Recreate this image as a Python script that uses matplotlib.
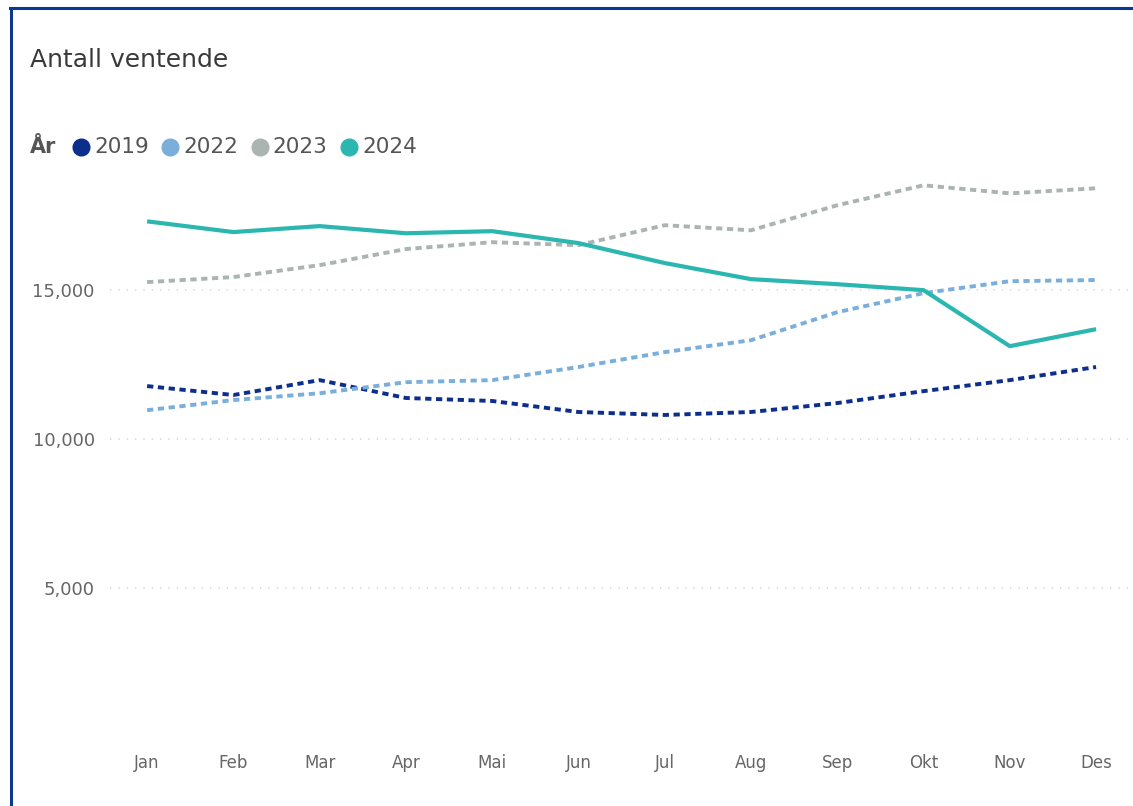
import matplotlib
matplotlib.use('Agg')
import matplotlib.pyplot as plt
from matplotlib.lines import Line2D
from matplotlib.ticker import FuncFormatter

months = ['Jan', 'Feb', 'Mar', 'Apr', 'Mai', 'Jun', 'Jul', 'Aug', 'Sep', 'Okt', 'Nov', 'Des']
years = ['2019', '2022', '2023', '2024']

v2019 = [11780, 11480, 11980, 11380, 11280, 10910, 10810, 10910, 11210, 11610, 11980, 12420]
v2022 = [10970, 11310, 11540, 11910, 11980, 12420, 12920, 13320, 14260, 14900, 15300, 15340]
v2023 = [15270, 15440, 15840, 16380, 16610, 16510, 17180, 17010, 17850, 18520, 18250, 18420]
v2024 = [17310, 16950, 17150, 16910, 16980, 16580, 15910, 15370, 15200, 15000, 13120, 13690]

colors = ['#0c2f8c', '#7aafdc', '#aab5b2', '#2cb6b0']
plt.rcParams['lines.scale_dashes'] = False

W, H = 1133, 806
fig = plt.figure(figsize=(W / 100, H / 100), dpi=100)

# axes placed in pixel units
left, right, bottom, top = 110, 1128, 737, 171
ax = fig.add_axes([left / W, 1 - bottom / H, (right - left) / W, (bottom - top) / H])

x = list(range(len(months)))
series = [v2019, v2022, v2023, v2024]
for i, vals in enumerate(series):
    if years[i] == '2024':
        ax.plot(x, vals, color=colors[i], lw=3.0, solid_capstyle='butt', zorder=3)
    else:
        ax.plot(x, vals, color=colors[i], lw=2.8, dashes=(4.5, 3.3), zorder=2)

ax.set_xlim(-0.43, 11.37)
ax.set_ylim(0, 19000)
ax.set_yticks([5000, 10000, 15000])
ax.yaxis.set_major_formatter(FuncFormatter(lambda v, p: f'{int(v):,}'))
ax.set_xticks(x)
ax.set_xticklabels(months)
ax.grid(axis='y', color='#dcdcdc', lw=1.3, linestyle=(0, (1, 5)))
ax.tick_params(length=0)
ax.tick_params(axis='y', labelsize=13, labelcolor='#666666', pad=11)
ax.tick_params(axis='x', labelsize=12, labelcolor='#666666', pad=12)
for s in ax.spines.values():
    s.set_visible(False)

# title
fig.text(30 / W, 1 - 60 / H, 'Antall ventende', fontsize=18, color='#3a3a3a',
         va='center', ha='left')

# legend
fig.text(30 / W, 1 - 147 / H, 'År', fontsize=15, fontweight='bold', color='#555555',
         va='center', ha='left')
for i, yr in enumerate(years):
    cx = 81 + i * 89.3
    fig.add_artist(Line2D([cx / W], [1 - 147 / H], marker='o', markersize=12,
                          color=colors[i], transform=fig.transFigure))
    fig.text((cx + 13) / W, 1 - 147 / H, yr, fontsize=15.5, color='#555555',
             va='center', ha='left')

# border
bc = '#0a3a8f'
fig.add_artist(Line2D([11 / W, 11 / W], [0, 1 - 8 / H], color=bc, lw=2.2,
                      transform=fig.transFigure))
fig.add_artist(Line2D([10 / W, 1], [1 - 8 / H, 1 - 8 / H], color=bc, lw=2.2,
                      transform=fig.transFigure))

fig.savefig('out.png', dpi=100)
